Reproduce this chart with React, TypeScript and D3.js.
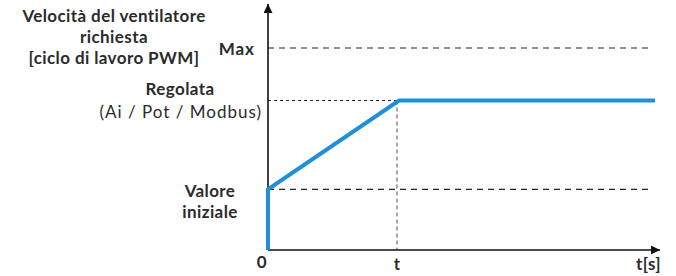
import { useEffect, useRef } from "react";
import * as d3 from "d3";

// time in seconds, duty cycle in %
const timeDomain = [0, 30];
const dutyDomain = [0, 100];
const rampTime = 10;
const initialDuty = 30;
const regulatedDuty = 74;
const maxDuty = 100;

const profileTime = [0, 0, rampTime, 30];
const profileDuty = [0, initialDuty, regulatedDuty, regulatedDuty];

const titleLines = ["Velocità del ventilatore", "richiesta", "[ciclo di lavoro PWM]"];
const initialLines = ["Valore", "iniziale"];

export default function App() {
  const ref = useRef<SVGSVGElement>(null);

  useEffect(() => {
    if (!ref.current) return;
    const svg = d3.select(ref.current);
    svg.selectAll("*").remove();

    const width = 676;
    const height = 276;
    const font = "Lato, sans-serif";
    const textColor = "#2b2b2b";
    const fs = 17;

    const x = d3.scaleLinear().domain(timeDomain).range([268, 655]);
    const y = d3.scaleLinear().domain(dutyDomain).range([250, 48]);

    svg.attr("width", width).attr("height", height).attr("viewBox", [0, 0, width, height]);

    // arrow marker
    svg.append("defs").append("marker")
      .attr("id", "arrow")
      .attr("viewBox", "0 0 10 10")
      .attr("refX", 10)
      .attr("refY", 5)
      .attr("markerWidth", 14)
      .attr("markerHeight", 9)
      .attr("markerUnits", "userSpaceOnUse")
      .attr("orient", "auto")
      .append("path")
      .attr("d", "M0,0 L10,5 L0,10 Z")
      .attr("fill", "#111");

    // reference lines
    svg.append("line")
      .attr("x1", x(0)).attr("x2", 652)
      .attr("y1", y(maxDuty)).attr("y2", y(maxDuty))
      .attr("stroke", "#222").attr("stroke-width", 1.2).attr("stroke-dasharray", "6,5");

    svg.append("line")
      .attr("x1", x(0)).attr("x2", x(rampTime))
      .attr("y1", y(regulatedDuty)).attr("y2", y(regulatedDuty))
      .attr("stroke", "#222").attr("stroke-width", 1).attr("stroke-dasharray", "3,3");

    svg.append("line")
      .attr("x1", x(0)).attr("x2", 652)
      .attr("y1", y(initialDuty)).attr("y2", y(initialDuty))
      .attr("stroke", "#222").attr("stroke-width", 1.2).attr("stroke-dasharray", "6,5");

    svg.append("line")
      .attr("x1", x(rampTime)).attr("x2", x(rampTime))
      .attr("y1", y(regulatedDuty)).attr("y2", y(0))
      .attr("stroke", "#777").attr("stroke-width", 1.3).attr("stroke-dasharray", "4,3");

    // axes
    svg.append("line")
      .attr("x1", x(0)).attr("x2", x(0))
      .attr("y1", y(0)).attr("y2", 4)
      .attr("stroke", "#111").attr("stroke-width", 1.6)
      .attr("marker-end", "url(#arrow)");

    svg.append("line")
      .attr("x1", x(0)).attr("x2", 660)
      .attr("y1", y(0)).attr("y2", y(0))
      .attr("stroke", "#111").attr("stroke-width", 1.6)
      .attr("marker-end", "url(#arrow)");

    // profile
    const line = d3.line<number>()
      .x(i => x(profileTime[i]) + (i === 2 ? 2 : 0))
      .y(i => y(profileDuty[i]));

    svg.append("path")
      .attr("d", line(d3.range(profileTime.length)))
      .attr("fill", "none")
      .attr("stroke", "#1f8fd6")
      .attr("stroke-width", 4);

    // labels
    const g = svg.append("g")
      .attr("font-family", font)
      .attr("fill", textColor)
      .attr("letter-spacing", 0.4);

    g.append("g").selectAll("text")
      .data(titleLines)
      .join("text")
      .attr("x", 114)
      .attr("y", (d, i) => 22 + i * 20.8)
      .attr("text-anchor", "middle")
      .attr("font-weight", "bold")
      .attr("font-size", fs)
      .text(d => d);

    g.append("text")
      .attr("x", 255).attr("y", 55)
      .attr("text-anchor", "end")
      .attr("font-weight", "bold").attr("font-size", fs)
      .attr("letter-spacing", 1)
      .text("Max");

    g.append("text")
      .attr("x", 180).attr("y", 95)
      .attr("text-anchor", "middle")
      .attr("font-weight", "bold").attr("font-size", fs)
      .text("Regolata");

    g.append("text")
      .attr("x", 262).attr("y", 118)
      .attr("text-anchor", "end")
      .attr("font-size", fs)
      .attr("letter-spacing", 1)
      .text("(Ai / Pot / Modbus)");

    g.append("g").selectAll("text")
      .data(initialLines)
      .join("text")
      .attr("x", 210)
      .attr("y", (d, i) => 197 + i * 21)
      .attr("text-anchor", "middle")
      .attr("font-weight", "bold")
      .attr("font-size", fs)
      .text(d => d);

    g.append("text")
      .attr("x", 262).attr("y", 268)
      .attr("text-anchor", "middle")
      .attr("font-weight", "bold").attr("font-size", fs)
      .text("0");

    g.append("text")
      .attr("x", x(rampTime)).attr("y", 270)
      .attr("text-anchor", "middle")
      .attr("font-weight", "bold").attr("font-size", fs)
      .text("t");

    g.append("text")
      .attr("x", 661).attr("y", 270)
      .attr("text-anchor", "end")
      .attr("font-weight", "bold").attr("font-size", fs)
      .text("t[s]");
  }, []);

  return (
    <div style={{ position: "absolute", left: 0, top: 0 }}>
      <svg ref={ref}></svg>
    </div>
  );
}
